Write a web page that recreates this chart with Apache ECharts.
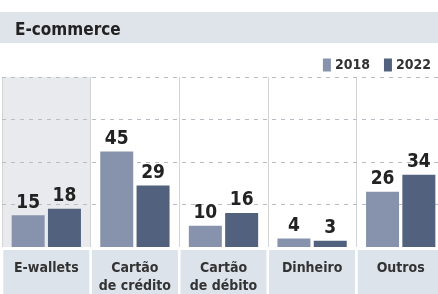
<!DOCTYPE html>
<html>
<head>
<meta charset="utf-8">
<style>
  html, body { margin: 0; height: 100%; background: #fff; }
  #chart { width: 438px; height: 294px; }
</style>
</head>
<body>
<div id="chart"></div>
<script src="https://cdn.jsdelivr.net/npm/echarts@6/dist/echarts.min.js"></script>
<script>
var categories = ['E-wallets', 'Cartão\nde crédito', 'Cartão\nde débito', 'Dinheiro', 'Outros'];
var years = ['2018', '2022'];
var values2018 = [15, 45, 10, 4, 26];
var values2022 = [18, 29, 16, 3, 34];
var yTicks = [0, 20, 40, 60, 80];

var font = '"Liberation Sans Narrow", "DejaVu Sans Condensed", sans-serif';

var chart = echarts.init(document.getElementById('chart'));

function barSeries(name, data, color) {
  return {
    name: name,
    type: 'bar',
    data: data,
    barWidth: 33,
    barGap: '10%',
    itemStyle: { color: color },
    label: {
      show: true,
      position: 'top',
      distance: 3,
      color: '#222',
      fontFamily: font,
      fontWeight: 'bold',
      fontSize: 19
    }
  };
}

chart.setOption({
  animation: false,
  title: {
    text: 'E-commerce',
    left: 10,
    top: 17,
    textStyle: { fontFamily: font, fontWeight: 'bold', fontSize: 17, color: '#222' }
  },
  graphic: [{
    type: 'rect',
    left: 0, top: 12, z: -1,
    shape: { width: 438, height: 31 },
    style: { fill: '#dfe4eb' }
  }],
  legend: {
    right: 2,
    top: 53,
    itemWidth: 8,
    itemHeight: 13,
    itemGap: 14,
    icon: 'rect',
    textStyle: { fontFamily: font, fontWeight: 'bold', fontSize: 14, color: '#333', padding: [0, 0, 0, -1] },
    data: years
  },
  grid: { left: 2, width: 443, top: 77, bottom: 47, outerBoundsMode: 'none', containLabel: false },
  xAxis: {
    type: 'category',
    data: categories,
    z: 0,
    axisLine: { show: false },
    axisTick: { show: false },
    splitLine: { show: true, lineStyle: { color: '#d4d4d4', width: 1 } },
    splitArea: { show: true, areaStyle: { color: ['#e8eaee', 'rgba(0,0,0,0)', 'rgba(0,0,0,0)', 'rgba(0,0,0,0)', 'rgba(0,0,0,0)'] } },
    axisLabel: {
      margin: 3,
      interval: 0,
      width: 86,
      height: 45,
      backgroundColor: '#dde3eb',
      verticalAlign: 'top',
      padding: [9, 0, 0, 0],
      lineHeight: 18,
      color: '#333',
      fontFamily: font,
      fontWeight: 'bold',
      fontSize: 14
    }
  },
  yAxis: {
    type: 'value',
    z: 2,
    min: yTicks[0],
    max: yTicks[yTicks.length - 1],
    interval: 20,
    axisLabel: { show: false },
    axisLine: { show: false },
    axisTick: { show: false },
    splitLine: { showMinLine: false, lineStyle: { color: '#b8bdc5', type: [4, 5] } }
  },
  series: [
    barSeries(years[0], values2018, '#8793ac'),
    barSeries(years[1], values2022, '#52627e')
  ]
});
</script>
</body>
</html>
